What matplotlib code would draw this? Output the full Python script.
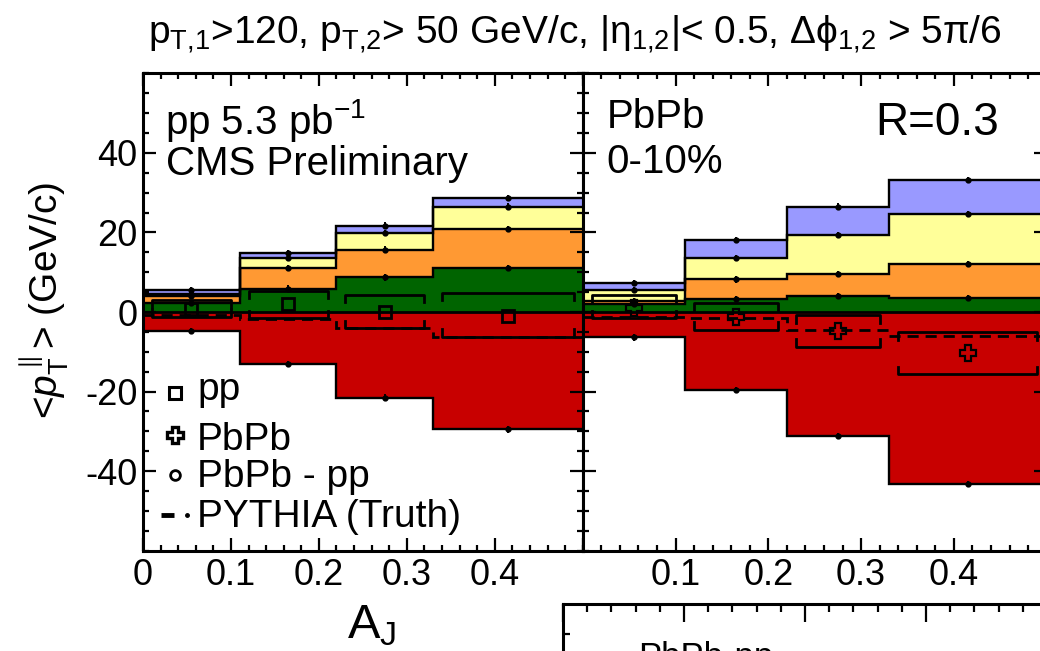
import numpy as np
import matplotlib
matplotlib.use("Agg")
import matplotlib.pyplot as plt
from matplotlib.ticker import MultipleLocator, FixedLocator, FixedFormatter

plt.rcParams["font.family"] = ["Liberation Sans", "DejaVu Sans"]
plt.rcParams["mathtext.fontset"] = "custom"
plt.rcParams["mathtext.rm"] = "Liberation Sans"
plt.rcParams["mathtext.it"] = "Liberation Sans:italic"
plt.rcParams["mathtext.bf"] = "Liberation Sans:bold"
plt.rcParams["axes.unicode_minus"] = False

# ---- binning in dijet asymmetry A_J ----
aj_edges = [0.0, 0.11, 0.22, 0.33, 0.5]
aj_centers = [0.055, 0.165, 0.275, 0.415]
x_ticks = [0.0, 0.1, 0.2, 0.3, 0.4]
x_labels_pp = ["0", "0.1", "0.2", "0.3", "0.4"]
x_labels_pbpb = ["", "0.1", "0.2", "0.3", "0.4"]
y_ticks = [-40, -20, 0, 20, 40]
y_labels = ["-40", "-20", "0", "20", "40"]

# ---- pp: <pT||> contributions per track-pT range (GeV/c) ----
pp_4_8 = [2.2, 5.9, 8.7, 11.1]
pp_2_4 = [1.8, 5.1, 7.0, 9.7]
pp_1_2 = [0.6, 2.5, 4.1, 5.7]
pp_05_1 = [1.0, 1.4, 1.9, 2.2]
pp_8_300 = [-4.8, -13.1, -21.5, -29.5]
pp_total = [0.8, 1.9, 0.0, -0.9]
pp_sys_hi = [3.0, 5.3, 4.3, 4.9]
pp_sys_lo = [-1.2, -1.6, -4.1, -6.2]
pp_pythia = [-0.8, -1.7, -4.1, -6.2]

# ---- PbPb 0-10%: <pT||> contributions per track-pT range (GeV/c) ----
pbpb_4_8 = [2.0, 3.3, 4.1, 3.5]
pbpb_2_4 = [0.7, 4.9, 5.4, 8.5]
pbpb_1_2 = [2.8, 5.3, 9.8, 12.6]
pbpb_05_1 = [1.8, 4.6, 7.2, 8.6]
pbpb_8_300 = [-6.4, -19.6, -31.1, -43.3]
pbpb_total = [1.1, -1.2, -4.7, -10.4]
pbpb_sys_hi = [4.3, 2.2, -0.75, -5.1]
pbpb_sys_lo = [-1.6, -4.5, -8.7, -15.6]
pbpb_pythia = [-1.2, -1.6, -4.4, -6.0]

stack_colors = ["#006400", "#FF9933", "#FFFF99", "#9999FF"]
high_pt_color = "#C80000"

W, H = 1040, 651
fig = plt.figure(figsize=(W / 100, H / 100), dpi=100)


def px_axes(x0, y_top, x1, y_bot):
    return fig.add_axes([x0 / W, 1 - y_bot / H, (x1 - x0) / W, (y_bot - y_top) / H])


def draw_panel(ax, parts, negative, total, marker, sys_hi, sys_lo, pythia):
    edges = np.array(aj_edges)
    cum = np.zeros(len(aj_centers))
    levels = []
    for vals, col in zip(parts, stack_colors):
        top = cum + np.array(vals)
        ax.stairs(top, edges, baseline=cum, fill=True, color=col, lw=0, zorder=1)
        cum = top
        levels.append(top.copy())
    neg = np.array(negative)
    ax.stairs(neg, edges, baseline=0, fill=True, color=high_pt_color, lw=0, zorder=1)
    levels.append(neg)
    for lev in levels:
        ax.stairs(lev, edges, baseline=None, color="k", lw=1.7, zorder=2)
    ax.axhline(0, color="k", lw=2.0, zorder=2)
    for lev in levels:
        ax.errorbar(aj_centers, lev, yerr=0.8, fmt="o", ms=3.5, color="k",
                    elinewidth=1.4, capsize=0, zorder=3)
    # systematic brackets
    leg = 1.9
    for i in range(len(aj_centers)):
        x0 = aj_edges[i] + 0.01
        x1 = aj_edges[i + 1] - 0.01
        t, b = sys_hi[i], sys_lo[i]
        ax.plot([x0, x0, x1, x1], [t - leg, t, t, t - leg], color="k", lw=2.0, zorder=4)
        ax.plot([x0, x0, x1, x1], [b + leg, b, b, b + leg], color="k", lw=2.0, zorder=4)
    # PYTHIA truth
    ax.stairs(pythia, edges, baseline=None, color="k", lw=2.0,
              linestyle=(0, (4, 2.5)), zorder=4)
    if marker == "s":
        ax.plot(aj_centers, total, ls="none", marker="s", ms=9, mfc="none",
                mec="k", mew=2.0, zorder=5)
    else:
        ax.plot(aj_centers, total, ls="none", marker="P", ms=11, mfc="none",
                mec="k", mew=1.6, zorder=5)


def style_axes(ax, xlabels, show_y):
    ax.set_xlim(0, 0.5)
    ax.set_ylim(-60, 60)
    ax.xaxis.set_major_locator(FixedLocator(x_ticks))
    ax.xaxis.set_major_formatter(FixedFormatter(xlabels))
    ax.xaxis.set_minor_locator(MultipleLocator(0.02))
    ax.yaxis.set_major_locator(FixedLocator(y_ticks))
    ax.yaxis.set_major_formatter(FixedFormatter(y_labels))
    ax.yaxis.set_minor_locator(MultipleLocator(5))
    ax.tick_params(which="both", direction="in", top=True, right=True,
                   width=1.6, labelsize=26)
    ax.tick_params(which="major", length=9.5)
    ax.tick_params(which="minor", length=4.5)
    ax.tick_params(axis="x", pad=5)
    ax.tick_params(axis="y", pad=4)
    if not show_y:
        ax.tick_params(axis="y", labelleft=False)
    for s in ax.spines.values():
        s.set_linewidth(2.2)
        s.set_zorder(6)


ax_pp = px_axes(143, 73.3, 582.7, 550.7)
ax_pb = px_axes(582.7, 73.3, 1046.7, 550.7)

draw_panel(ax_pp, [pp_4_8, pp_2_4, pp_1_2, pp_05_1], pp_8_300, pp_total, "s",
           pp_sys_hi, pp_sys_lo, pp_pythia)
draw_panel(ax_pb, [pbpb_4_8, pbpb_2_4, pbpb_1_2, pbpb_05_1], pbpb_8_300, pbpb_total, "P",
           pbpb_sys_hi, pbpb_sys_lo, pbpb_pythia)
style_axes(ax_pp, x_labels_pp, True)
style_axes(ax_pb, x_labels_pbpb, False)

# panel annotations
ax_pp.text(0.05, 0.873, "pp 5.3 pb$^{-1}$", transform=ax_pp.transAxes, fontsize=29,
           ha="left", va="baseline")
ax_pp.text(0.053, 0.786, "CMS Preliminary", transform=ax_pp.transAxes, fontsize=29,
           ha="left", va="baseline")
ax_pb.text(0.052, 0.885, "PbPb", transform=ax_pb.transAxes, fontsize=29,
           ha="left", va="baseline")
ax_pb.text(0.052, 0.791, "0-10%", transform=ax_pb.transAxes, fontsize=29,
           ha="left", va="baseline")
ax_pb.text(0.63, 0.871, "R=0.3", transform=ax_pb.transAxes, fontsize=33,
           ha="left", va="baseline")

# legend
tr = ax_pp.transAxes
ax_pp.plot([0.0728], [0.3297], transform=tr, marker="s", ms=9, mfc="none", mec="k", mew=2.2)
ax_pp.text(0.1228, 0.3157, "pp", transform=tr, fontsize=28, va="baseline")
ax_pp.plot([0.0728], [0.2424], transform=tr, marker="P", ms=11, mfc="none", mec="k", mew=2.4)
ax_pp.text(0.1228, 0.2109, "PbPb", transform=tr, fontsize=28, va="baseline")
ax_pp.plot([0.0728], [0.1586], transform=tr, marker="o", ms=7, mfc="none", mec="k", mew=2.0)
ax_pp.text(0.1228, 0.134, "PbPb - pp", transform=tr, fontsize=28, va="baseline")
ax_pp.plot([0.041, 0.0705], [0.0748, 0.0748], transform=tr, color="k", lw=3.5,
           solid_capstyle="butt")
ax_pp.plot([0.101], [0.0748], transform=tr, marker="o", ms=2.5, color="k")
ax_pp.text(0.1228, 0.0503, "PYTHIA (Truth)", transform=tr, fontsize=28, va="baseline")

# axis titles
fig.text(45 / W, 1 - 300 / H, r"<$p_{\mathrm{T}}^{\parallel}$> (GeV/c)", rotation=90,
         ha="center", va="center", fontsize=28)
fig.text(347 / W, 1 - 638 / H, r"A$_{\mathrm{J}}$", ha="left", va="baseline", fontsize=35)

# header line
title = (r"p$_{\mathrm{T{,}1}}$>120, p$_{\mathrm{T{,}2}}$> 50 GeV/c, "
         r"|η$_{\mathrm{1{,}2}}$|< 0.5, Δϕ$_{\mathrm{1{,}2}}$ > 5π/6")
fig.text(575 / W, 1 - 43 / H, title, ha="center", va="baseline", fontsize=28,
         family=["Liberation Sans", "DejaVu Sans"])

# next panel peeking in at the bottom
ax_low = px_axes(563, 604, 1168, 976.5)
ax_low.set_xlim(0, 0.5)
ax_low.set_ylim(-11.4, 1)
ax_low.xaxis.set_major_locator(MultipleLocator(0.1))
ax_low.xaxis.set_minor_locator(MultipleLocator(0.02))
ax_low.set_yticks([0])
ax_low.tick_params(axis="x", which="both", direction="in", top=True, bottom=False,
                   labeltop=False, labelbottom=False, width=1.6)
ax_low.tick_params(axis="x", which="major", length=13)
ax_low.tick_params(axis="x", which="minor", length=6)
ax_low.tick_params(axis="y", direction="in", length=5, width=1.6, labelleft=False)
ax_low.spines["right"].set_visible(False)
ax_low.spines["bottom"].set_visible(False)
for s in ("top", "left"):
    ax_low.spines[s].set_linewidth(2.2)
ax_low.patch.set_alpha(0)
fig.text(638 / W, 1 - 667 / H, "PbPb-pp", ha="left", va="baseline", fontsize=25)

fig.savefig("out.png", dpi=100)
